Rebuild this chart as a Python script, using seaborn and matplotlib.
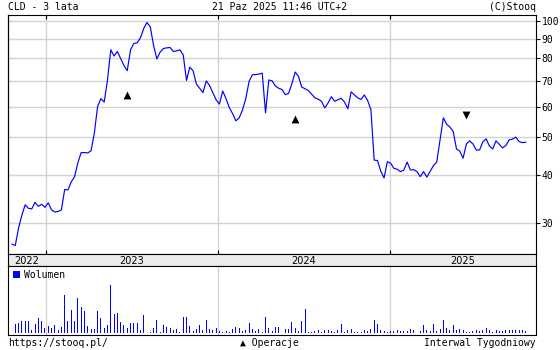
import numpy as np
import pandas as pd
import matplotlib
matplotlib.use("Agg")
import matplotlib.pyplot as plt
import matplotlib.dates as mdates
from matplotlib.ticker import NullLocator, FixedLocator, FixedFormatter
import seaborn as sns

# ---------------- data ----------------
title_left = "CLD - 3 lata"
title_mid = "21 Paz 2025 11:46 UTC+2"
title_right = "(C)Stooq"
footer_left = "https://stooq.pl/"
footer_mid = "\u25B2 Operacje"
footer_right = "Interwal Tygodniowy"
volume_label = "Wolumen"

start_date = "2022-10-21"   # weekly closes

close = [26.5, 26.3, 29.2, 31.5, 33.5, 32.8, 32.7, 34.0, 33.2, 33.6,
         33.0, 33.9, 32.5, 32.1, 32.2, 32.5, 36.7, 36.6, 38.4, 39.6,
         43.0, 45.7, 45.7, 45.6, 46.2, 51.3, 60.1, 63.0, 61.7, 70.4,
         84.2, 81.2, 83.4, 80.0, 76.7, 74.4, 84.2, 87.5, 87.8, 90.4,
         95.6, 99.1, 96.5, 86.4, 79.8, 83.1, 84.9, 85.2, 85.4, 83.4,
         83.7, 84.2, 81.7, 70.2, 76.0, 74.3, 68.7, 67.0, 65.3, 70.0,
         68.1, 65.2, 62.5, 61.0, 65.9, 63.0, 59.7, 57.6, 55.2, 56.2,
         58.9, 63.0, 69.8, 72.6, 72.7, 72.9, 73.3, 57.9, 70.4, 70.0,
         67.9, 67.0, 66.5, 64.5, 65.0, 68.8, 73.8, 71.9, 67.5, 66.8,
         66.1, 64.7, 63.3, 62.8, 62.0, 59.6, 61.4, 63.7, 62.0, 62.6,
         63.1, 61.7, 59.3, 65.6, 64.4, 63.3, 62.7, 64.4, 62.3, 59.0,
         43.7, 43.6, 40.9, 39.3, 43.3, 42.9, 41.6, 41.4, 40.8, 41.2,
         43.2, 41.2, 41.3, 40.8, 39.6, 40.8, 39.5, 40.9, 42.3, 43.2,
         49.3, 56.2, 54.1, 53.2, 51.8, 46.7, 46.1, 44.2, 48.1, 49.0,
         48.1, 46.4, 46.4, 48.7, 49.6, 47.5, 46.7, 49.0, 48.0, 47.0,
         47.7, 49.3, 49.5, 50.1, 48.8, 48.5, 48.6]

volume = [13, 28, 32, 37, 37, 37, 10, 28, 45, 37, 15, 21, 17, 24, 10, 20,
          115, 37, 70, 37, 105, 79, 67, 21, 13, 13, 67, 46, 15, 25, 145, 58,
          62, 33, 25, 17, 31, 31, 31, 10, 55, 25, 4, 15, 39, 5, 25, 18, 15,
          9, 12, 5, 49, 49, 22, 7, 13, 25, 10, 40, 12, 10, 15, 8, 3, 7, 5,
          13, 18, 15, 7, 10, 31, 13, 8, 13, 5, 49, 15, 7, 19,
          19, 26, 14, 13, 35, 16, 8, 38, 74, 3, 4, 6, 11, 3, 11, 11, 6, 4,
          11, 29, 5, 11, 14, 4, 3, 3, 11, 7, 14, 41, 29, 11, 8, 5, 8, 6, 11,
          7, 6, 8, 14, 11, 6, 7, 26, 11, 6, 29, 6, 14, 41, 16, 11, 26, 11,
          14, 11, 5, 5, 6, 11, 6, 11, 16, 11, 5, 9, 7, 6, 11, 9, 9, 9, 9, 9, 7]

ops_index = [35, 86, 138]
ops_price = [64.4, 55.9, 57.1]
ops_kind = ["buy", "buy", "sell"]

y_ticks = [30, 40, 50, 60, 70, 80, 90, 100]
years = [2022, 2023, 2024, 2025]

# ---------------- build ----------------
dates = pd.date_range(start_date, periods=len(close), freq="7D")
xnum = mdates.date2num(dates)
df = pd.DataFrame({"x": xnum, "close": close, "volume": volume})
ops = pd.DataFrame({"x": xnum[ops_index], "price": ops_price, "kind": ops_kind})

plt.rcParams["font.family"] = ["DejaVu Sans Mono", "DejaVu Sans"]
plt.rcParams["axes.linewidth"] = 0.8

W, H = 560, 350
fig = plt.figure(figsize=(W / 100, H / 100), dpi=100)
fig.patch.set_facecolor("white")


def rect(x0, y0, x1, y1):
    return [x0 / W, 1 - y1 / H, (x1 - x0) / W, (y1 - y0) / H]


ax = fig.add_axes(rect(8, 15, 536, 254))
axb = fig.add_axes(rect(8, 254, 536, 266))
axv = fig.add_axes(rect(8, 266, 536, 335))

day = 1.0
xlim = (xnum[0] - 8.5 * day, xnum[-1] + 22 * day)
year_bounds = [mdates.date2num(pd.Timestamp(f"{y}-01-01")) for y in years[1:]]

grid_c = "#D3D3D3"
blue = "#0000FF"

# ---- main price panel ----
ax.set_axisbelow(True)
sns.lineplot(data=df, x="x", y="close", ax=ax, color=blue, linewidth=0.85)
buy = ops[ops["kind"] == "buy"]
sell = ops[ops["kind"] == "sell"]
sns.scatterplot(data=buy, x="x", y="price", ax=ax, marker="^", color="black",
                s=32, linewidth=0, zorder=5)
sns.scatterplot(data=sell, x="x", y="price", ax=ax, marker="v", color="black",
                s=32, linewidth=0, zorder=5)
ax.set_yscale("log")
ax.set_ylim(25.0, 103.6)
ax.set_xlim(*xlim)
ax.yaxis.set_major_locator(FixedLocator(y_ticks))
ax.yaxis.set_major_formatter(FixedFormatter([str(t) for t in y_ticks]))
ax.yaxis.set_minor_locator(NullLocator())
ax.yaxis.tick_right()
ax.tick_params(axis="y", which="major", direction="out", length=3, width=0.8,
               labelsize=7, pad=1, right=True, left=False)
ax.set_xticks(year_bounds)
ax.tick_params(axis="x", which="major", top=True, bottom=True, direction="in",
               length=3, width=0.8, labelbottom=False)
ax.xaxis.set_minor_locator(NullLocator())
ax.grid(True, which="major", color=grid_c, linewidth=1.0)
ax.set_xlabel("")
ax.set_ylabel("")
for s in ax.spines.values():
    s.set_color("black")

sec = ax.secondary_yaxis("left")
sec.set_yticks(y_ticks)
sec.yaxis.set_minor_locator(NullLocator())
sec.tick_params(axis="y", direction="in", length=3, width=0.8, labelleft=False)

# ---- year band ----
axb.set_facecolor("#EBEBEB")
axb.set_xlim(*xlim)
axb.set_ylim(0, 1)
axb.set_yticks([])
axb.set_xticks(year_bounds)
axb.tick_params(axis="x", direction="out", length=4, width=0.8, labelbottom=False)
edges = [xlim[0]] + year_bounds + [xlim[1]]
for i, y in enumerate(years):
    cx = (edges[i] + edges[i + 1]) / 2
    axb.text(cx, 0.45, str(y), ha="center", va="center", fontsize=7,
             family="DejaVu Sans")

# ---- volume panel ----
axv.set_axisbelow(True)
sns.barplot(data=df, x="x", y="volume", ax=axv, native_scale=True, width=0.3,
            color=blue, saturation=1, errorbar=None, linewidth=0,
            label=volume_label)
axv.set_xlim(*xlim)
axv.set_ylim(-5, 202)
axv.set_yticks([])
axv.set_xticks(year_bounds)
axv.tick_params(axis="x", length=0, labelbottom=False)
axv.grid(True, axis="x", color=grid_c, linewidth=1.0)
axv.set_xlabel("")
axv.set_ylabel("")
leg = axv.legend(loc="upper left", bbox_to_anchor=(5 / 528, 1 - 4 / 69),
                 frameon=False, fontsize=7, borderpad=0, borderaxespad=0,
                 handlelength=0.7, handleheight=0.7, handletextpad=0.45)

# ---- texts ----
fig.text(8 / W, 1 - 7 / H, title_left, ha="left", va="center", fontsize=7)
fig.text(0.5, 1 - 7 / H, title_mid, ha="center", va="center", fontsize=7)
fig.text(536 / W, 1 - 7 / H, title_right, ha="right", va="center", fontsize=7)
fig.text(8 / W, 1 - 343 / H, footer_left, ha="left", va="center", fontsize=7)
fig.text(240 / W, 1 - 343 / H, footer_mid, ha="left", va="center", fontsize=7)
fig.text(536 / W, 1 - 343 / H, footer_right, ha="right", va="center", fontsize=7)

fig.savefig("out.png", dpi=100, facecolor="white")
